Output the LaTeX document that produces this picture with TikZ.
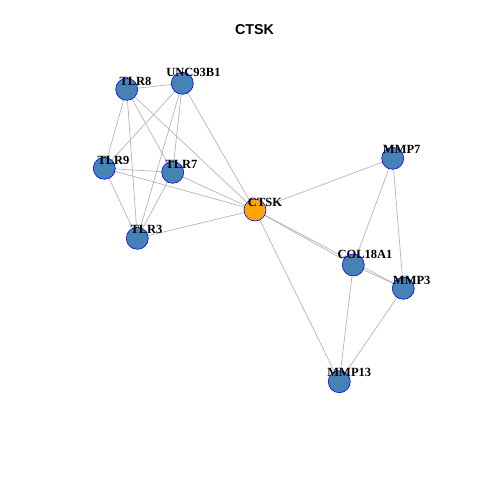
\documentclass[tikz,border=0pt]{standalone}
\usepackage{fontspec}
\setmainfont{Liberation Serif}
\newfontfamily\titlefont{Liberation Sans}
\usetikzlibrary{backgrounds}
\definecolor{steel}{RGB}{70,130,180}
\definecolor{edgegray}{RGB}{180,180,180}
\definecolor{orng}{RGB}{255,165,0}
\begin{document}
\begin{tikzpicture}[x=1pt,y=-1pt,
  gnode/.style={circle,draw=blue,fill=steel,minimum size=22pt,inner sep=0pt,line width=0.6pt},
  hub/.style={gnode,fill=orng},
  lbl/.style={font=\bfseries\fontsize{12.5}{12.5}\selectfont,inner sep=0pt,anchor=center},
  edge/.style={draw=edgegray,line width=0.7pt}]
\useasboundingbox (0,0) rectangle (480,480);
\node[font=\titlefont\bfseries\fontsize{14.3}{14.3}\selectfont] (title) at (254.5,30) {CTSK};
\node[gnode] (tlr8) at (126.7,89.3) {};
\node[gnode] (unc) at (182.3,83.3) {};
\node[gnode] (tlr9) at (104.3,168.3) {};
\node[gnode] (tlr7) at (172.7,172.3) {};
\node[hub] (ctsk) at (255,210) {};
\node[gnode] (tlr3) at (137.3,238.3) {};
\node[gnode] (mmp7) at (392.7,158.3) {};
\node[gnode] (col) at (353.3,265) {};
\node[gnode] (mmp3) at (403.3,288.3) {};
\node[gnode] (mmp13) at (339.3,381.7) {};
\begin{scope}[on background layer]
\foreach \a/\b in {tlr8/unc,tlr8/tlr9,tlr8/tlr3,tlr8/tlr7,tlr8/ctsk,
  unc/tlr9,unc/tlr7,unc/tlr3,unc/ctsk,tlr9/tlr7,tlr9/ctsk,tlr9/tlr3,
  tlr7/ctsk,tlr7/tlr3,tlr3/ctsk,ctsk/mmp7,ctsk/col,ctsk/mmp3,ctsk/mmp13,
  mmp7/col,mmp7/mmp3,col/mmp3,col/mmp13,mmp3/mmp13}
  \draw[edge] (\a.center) -- (\b.center);
\end{scope}
\node[lbl] (ltlr8) at (135.5,81.5) {TLR8};
\node[lbl] (lunc) at (193.5,72) {UNC93B1};
\node[lbl] (ltlr9) at (113.5,160) {TLR9};
\node[lbl] (ltlr7) at (181.5,164) {TLR7};
\node[lbl] (lctsk) at (265,202) {CTSK};
\node[lbl] (ltlr3) at (146.5,229.7) {TLR3};
\node[lbl] (lmmp7) at (401.7,149.5) {MMP7};
\node[lbl] (lcol) at (365,254.5) {COL18A1};
\node[lbl] (lmmp3) at (411.7,280) {MMP3};
\node[lbl] (lmmp13) at (349.3,372.5) {MMP13};
\end{tikzpicture}
\end{document}
